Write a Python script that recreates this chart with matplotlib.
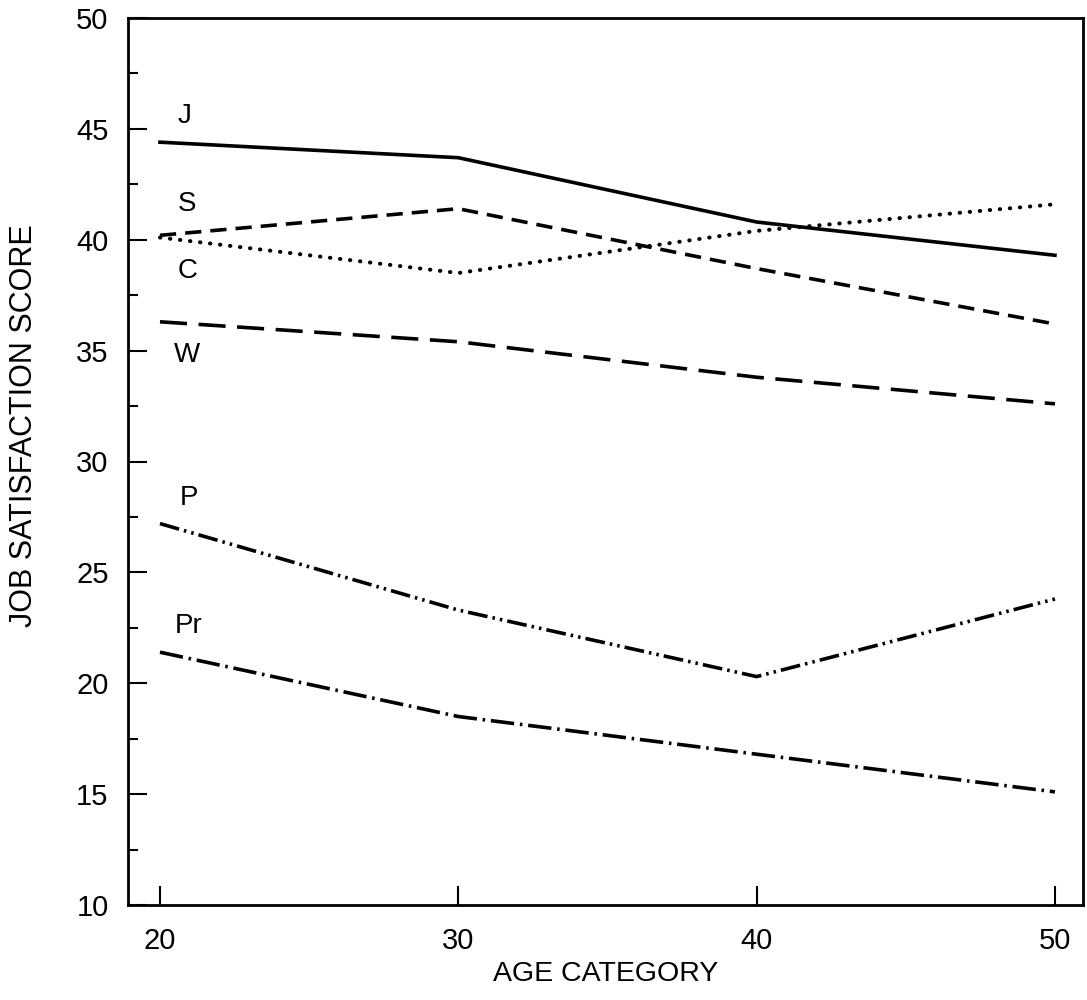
import numpy as np
from matplotlib import pyplot as plt
from matplotlib.ticker import MultipleLocator

plt.rcParams['font.family'] = ['Liberation Sans', 'DejaVu Sans']

ages = [20, 30, 40, 50]
# job satisfaction score per group
j_vals = [44.4, 43.7, 40.8, 39.3]
s_vals = [40.2, 41.4, 38.7, 36.2]
c_vals = [40.1, 38.5, 40.4, 41.6]
w_vals = [36.3, 35.4, 33.8, 32.6]
p_vals = [27.2, 23.3, 20.3, 23.8]
pr_vals = [21.4, 18.5, 16.8, 15.1]

series_names = ['J', 'S', 'C', 'W', 'P', 'Pr']
label_pos = [(20.6, 45.6), (20.6, 41.6), (20.6, 38.6), (20.45, 34.8), (20.65, 28.35), (20.5, 22.6)]

fig = plt.figure(figsize=(10.87, 10.0), dpi=100)
ax = fig.add_axes([0.1178, 0.095, 0.8785, 0.887])

lw = 2.6
ax.plot(ages, j_vals, color='black', lw=lw, linestyle='-')
ax.plot(ages, s_vals, color='black', lw=lw, linestyle=(0, (4.5, 2.5)))
ax.plot(ages, c_vals, color='black', lw=lw + 0.3, linestyle=(0, (0.1, 2.4)), dash_capstyle='round')
ax.plot(ages, w_vals, color='black', lw=lw, linestyle=(0, (7.5, 3.2)))
ax.plot(ages, p_vals, color='black', lw=lw, linestyle=(0, (5.5, 1.4, 0.7, 1.4, 0.7, 1.4)))
ax.plot(ages, pr_vals, color='black', lw=lw, linestyle=(0, (6.5, 1.6, 0.7, 1.6)))

for name, (lx, ly) in zip(series_names, label_pos):
    ax.text(lx, ly, name, fontsize=20, ha='left', va='center')

ax.set_xlim(18.93, 50.94)
ax.set_ylim(10, 50)
ax.set_xticks(ages)
ax.yaxis.set_major_locator(MultipleLocator(5))
ax.yaxis.set_minor_locator(MultipleLocator(2.5))
ax.tick_params(axis='both', which='major', direction='in', length=14, width=1.5,
               labelsize=21)
ax.tick_params(axis='y', which='major', pad=14)
ax.tick_params(axis='x', which='major', pad=16)
ax.tick_params(axis='y', which='minor', direction='in', length=7, width=1.5)
for sp in ax.spines.values():
    sp.set_linewidth(2)

ax.set_xlabel('AGE CATEGORY', fontsize=20.5, labelpad=4)
fig.text(24 / 1087, 1 - 426 / 1000, 'JOB SATISFACTION SCORE', fontsize=22,
         rotation=90, ha='center', va='center')

plt.savefig('out.png', dpi=100)
